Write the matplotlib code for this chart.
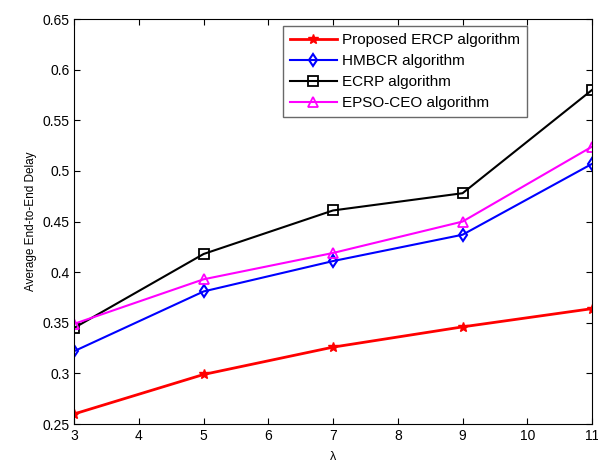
import matplotlib
matplotlib.use('Agg')
import matplotlib.pyplot as plt

plt.rcParams['font.family'] = ['Liberation Sans', 'DejaVu Sans']

lam = [3, 5, 7, 9, 11]
ercp = [0.260, 0.299, 0.326, 0.346, 0.364]
hmbcr = [0.322, 0.381, 0.411, 0.437, 0.507]
ecrp = [0.345, 0.418, 0.461, 0.478, 0.580]
epso = [0.349, 0.393, 0.419, 0.450, 0.524]

fig = plt.figure(figsize=(5.98, 4.65), dpi=100)
ax = fig.add_axes([0.124, 0.088, 0.866, 0.871])

ax.plot(lam, ercp, 'r*-', lw=2, ms=7, label='Proposed ERCP algorithm')
ax.plot(lam, hmbcr, 'bd-', lw=1.5, ms=6, mfc='none', mew=1.5, label='HMBCR algorithm')
ax.plot(lam, ecrp, 'ks-', lw=1.5, ms=6.5, mfc='none', mew=1.3, label='ECRP algorithm')
ax.plot(lam, epso, '^-', color='magenta', lw=1.5, ms=7, mfc='none', mew=1.3, label='EPSO-CEO algorithm')

ax.set_xlim(3, 11)
ax.set_ylim(0.25, 0.65)
ax.set_xticks(range(3, 12))
ax.set_yticks([0.25, 0.3, 0.35, 0.4, 0.45, 0.5, 0.55, 0.6, 0.65])
ax.set_yticklabels(['0.25', '0.3', '0.35', '0.4', '0.45', '0.5', '0.55', '0.6', '0.65'])
ax.tick_params(direction='in', top=True, right=True, labelsize=10, length=4)
ax.set_xlabel('λ', fontsize=9, labelpad=6)
ax.set_ylabel('Average End-to-End Delay', fontsize=8.5)

leg = ax.legend(loc='upper left', bbox_to_anchor=(0.403, 0.982), fontsize=11,
                fancybox=False, edgecolor='#444444', handlelength=3.1,
                borderpad=0.45, labelspacing=0.45, handletextpad=0.3,
                borderaxespad=0)
leg.get_frame().set_linewidth(1.0)

fig.savefig('out.png', dpi=100)
